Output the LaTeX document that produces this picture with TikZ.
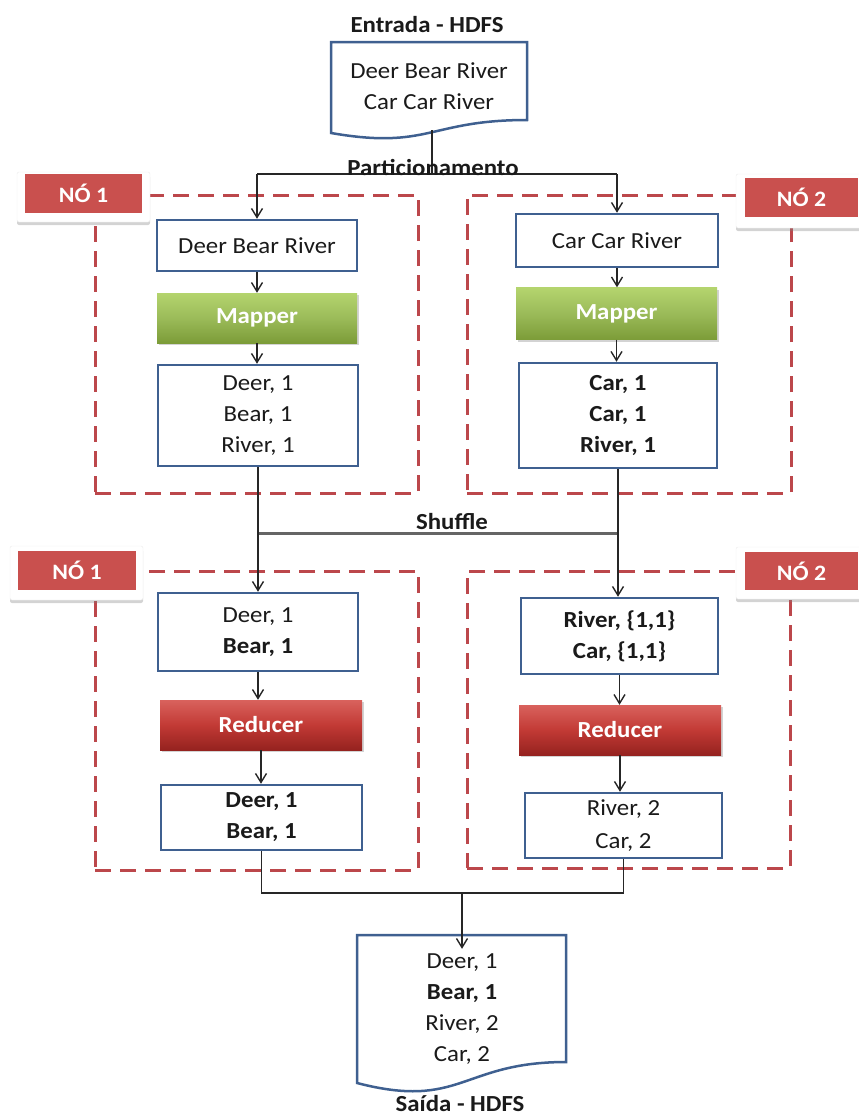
\documentclass[tikz,border=0pt]{standalone}
\usepackage{fontspec}
\setmainfont{Carlito}[FakeStretch=1.08]
\usetikzlibrary{arrows.meta,shadows}
\definecolor{boxblue}{HTML}{3F6090}
\definecolor{dashred}{HTML}{BC474B}
\definecolor{labred}{HTML}{C9504E}
\definecolor{mapTop}{HTML}{B4D46E}
\definecolor{mapMid}{HTML}{9BBB59}
\definecolor{mapBot}{HTML}{7C9C38}
\definecolor{redTop}{HTML}{D9625D}
\definecolor{redMid}{HTML}{C23A35}
\definecolor{redBot}{HTML}{95221F}
\definecolor{txtcol}{HTML}{1A1A1A}
\definecolor{shufgray}{HTML}{656565}
\begin{document}
\begin{tikzpicture}[x=1pt,y=-1pt,
  txt/.style={font=\fontsize{23}{31}\selectfont, text=txtcol},
  btxt/.style={font=\fontsize{23}{31}\selectfont\bfseries, text=txtcol},
  bbox/.style={draw=boxblue, line width=2.5pt, fill=white, align=center, txt, inner sep=0pt},
  mapbox/.style={draw=none, top color=mapTop, bottom color=mapBot, middle color=mapMid,
    font=\fontsize{23}{26}\selectfont\bfseries, text=white, inner sep=0pt,
    drop shadow={opacity=0.35, shadow xshift=1.5pt, shadow yshift=-2pt}},
  redbox/.style={draw=none, top color=redTop, bottom color=redBot, middle color=redMid,
    font=\fontsize{23}{26}\selectfont\bfseries, text=white, inner sep=0pt,
    drop shadow={opacity=0.35, shadow xshift=1.5pt, shadow yshift=-2pt}},
  dashbox/.style={draw=dashred, line width=3pt, dash pattern=on 16pt off 9pt, inner sep=0pt},
  card/.style={fill=white, draw=gray!15, rounded corners=2pt, inner sep=0pt,
    drop shadow={opacity=0.35, shadow xshift=0pt, shadow yshift=-3pt}},
  nolabel/.style={fill=labred, text=white, font=\fontsize{22}{25}\selectfont\bfseries, inner sep=0pt},
  conn/.style={line width=1.4pt, draw=black!85},
  arr/.style={conn, -{Straight Barb[length=9pt,width=11pt,line width=1.4pt]}},
  docshape/.style={draw=boxblue, line width=2.5pt, fill=white, line join=miter}
]
\useasboundingbox (0,0) rectangle (859,1117);

% ---- dashed node groups
\node[dashbox, minimum width=323, minimum height=298] (g1) at (256.5,344) {};
\node[dashbox, minimum width=324, minimum height=298] (g2) at (629,344) {};
\node[dashbox, minimum width=323, minimum height=299] (g3) at (256.5,720.5) {};
\node[dashbox, minimum width=323, minimum height=297] (g4) at (628.5,719.5) {};

% ---- label cards
\node[card, minimum width=133, minimum height=50] (c1) at (83.5,197) {};
\node[nolabel, minimum width=117, minimum height=39] (l1) at (83.5,193.5) {NÓ 1};
\node[card, minimum width=128, minimum height=54] (c2) at (800,201) {};
\node[nolabel, minimum width=113, minimum height=39] (l2) at (801.5,197.5) {NÓ 2};
\node[card, minimum width=133, minimum height=54] (c3) at (76.5,573) {};
\node[nolabel, minimum width=118, minimum height=39] (l3) at (77,570.5) {NÓ 1};
\node[card, minimum width=128, minimum height=52] (c4) at (800,573) {};
\node[nolabel, minimum width=113, minimum height=38] (l4) at (801.5,571) {NÓ 2};

% ---- input document
\draw[docshape] (331,42) -- (527,42) -- (527,120)
  .. controls (429,120) and (429,150) .. (331,133) -- cycle;
\node[btxt] (ttlin) at (427,25) {Entrada - HDFS};
\node[txt, align=center, inner sep=0pt, minimum width=196, minimum height=88] (docin) at (429,86)
  {Deer Bear River\\Car Car River};

% ---- node 1 (map)
\node[bbox, minimum width=200, minimum height=51] (in1) at (257,245.5) {Deer Bear River};
\node[mapbox, minimum width=200, minimum height=50] (map1) at (257,318) {Mapper};
\node[bbox, minimum width=200, minimum height=101] (m1out) at (258,415.5) {Deer, 1\\Bear, 1\\River, 1};

% ---- node 2 (map)
\node[bbox, minimum width=202, minimum height=53] (in2) at (617,240.5) {Car Car River};
\node[mapbox, minimum width=201, minimum height=52] (map2) at (616.5,313.5) {Mapper};
\node[bbox, minimum width=198, minimum height=105, font=\fontsize{23}{31}\selectfont\bfseries] (m2out) at (618,415.5) {Car, 1\\Car, 1\\River, 1};

% ---- node 1 (reduce)
\node[bbox, minimum width=200, minimum height=78] (r1in) at (258,632) {Deer, 1\\\textbf{Bear, 1}};
\node[redbox, minimum width=202, minimum height=50] (red1) at (261,725) {Reducer};
\node[bbox, minimum width=201, minimum height=65, font=\fontsize{23}{31}\selectfont\bfseries] (o1) at (261.5,817.5) {Deer, 1\\Bear, 1};

% ---- node 2 (reduce)
\node[bbox, minimum width=197, minimum height=76, font=\fontsize{23}{31}\selectfont\bfseries] (r2in) at (619.5,636) {River, \{1,1\}\\Car, \{1,1\}};
\node[redbox, minimum width=202, minimum height=50] (red2) at (620,730) {Reducer};
\node[bbox, minimum width=197, minimum height=65] (o2) at (623.5,825.5) {River, 2\\[2pt]Car, 2};

% ---- output document
\draw[docshape] (357,935) -- (566,935) -- (566,1062)
  .. controls (461.5,1062) and (461.5,1110) .. (357,1083) -- cycle;
\node[txt, align=center, inner sep=0pt, minimum width=209, minimum height=120] (docout) at (462,1009)
  {Deer, 1\\\textbf{Bear, 1}\\River, 2\\Car, 2};
\node[btxt] (ttlout) at (460,1104) {Saída - HDFS};

% ---- partitioning
\coordinate (ysplit) at (0,174);
\draw[conn] (docin.south) ++(3,0) coordinate (dsrc) -- (dsrc |- ysplit);
\draw[conn] (in1.north |- ysplit) -- (in2.north |- ysplit);
\draw[arr] (in1.north |- ysplit) -- (in1.north);
\draw[arr] (in2.north |- ysplit) -- (in2.north);
\node[btxt, anchor=south, inner sep=1pt] (lpart) at (433,177) {Particionamento};

% ---- map chains
\draw[arr] (in1.south) -- (in1.south |- map1.north);
\draw[arr] (map1.south) -- (map1.south |- m1out.north);
\draw[arr] (in2.south) -- (in2.south |- map2.north);
\draw[arr] (map2.south) -- (map2.south |- m2out.north);

% ---- shuffle
\coordinate (yshuf) at (0,533);
\draw[line width=3pt, draw=shufgray] (m1out.south |- yshuf) -- (m2out.south |- yshuf);
\draw[arr] (m1out.south) -- (m1out.south |- r1in.north);
\draw[arr] (m2out.south) -- (m2out.south |- r2in.north);
\node[btxt, anchor=south, inner sep=1pt] (lshuf) at (452,531) {Shuffle};

% ---- reduce chains
\draw[arr] (r1in.south) -- (r1in.south |- red1.north);
\draw[arr] (red1.south) -- (red1.south |- o1.north);
\draw[arr] (r2in.south) -- (r2in.south |- red2.north);
\draw[arr] (red2.south) -- (red2.south |- o2.north);

% ---- merge to output
\coordinate (ymerge) at (0,893);
\draw[conn] (o1.south) -- (o1.south |- ymerge) -- (o2.south |- ymerge) -- (o2.south);
\draw[arr, line width=1.9pt] (docout.north |- ymerge) -- (docout.north);
\end{tikzpicture}
\end{document}
